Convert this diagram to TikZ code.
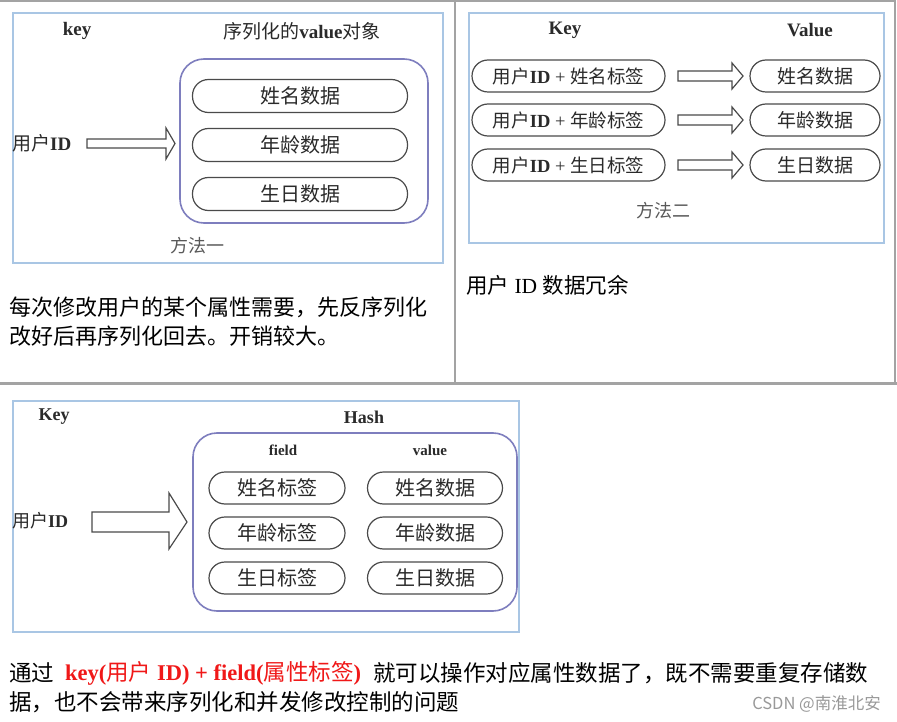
\documentclass[tikz,border=0pt]{standalone}
\usepackage{fontspec}
\setmainfont{Liberation Serif}
\newfontfamily\cjk{Noto Sans CJK SC}
\newcommand\zh[1]{{\cjk #1}}
\definecolor{framec}{HTML}{A9C6E4}
\definecolor{purp}{HTML}{7E7EBE}
\definecolor{pillc}{HTML}{4A4A4A}
\definecolor{txt}{HTML}{2A2A2A}
\definecolor{tabc}{HTML}{A3A3A3}
\definecolor{redt}{HTML}{F01818}
\begin{document}
\begin{tikzpicture}[x=1pt,y=-1pt,
  fs/.style={font=\fontsize{#1}{#1}\selectfont},
  lbl/.style={fs=#1, text=txt, inner sep=0pt},
  body/.style={fs=#1, text=black, inner sep=0pt, anchor=west},
  frame/.style={draw=framec, line width=1.8pt},
  purplebox/.style={draw=purp, line width=1.6pt, rounded corners=24pt, inner sep=0pt},
  pill/.style={draw=pillc, line width=1.2pt, rounded corners=16pt, minimum height=33pt, inner sep=0pt, text=txt, fs=20},
  blockarrow/.style={draw=pillc, line width=1.2pt, sharp corners, line join=miter, fill=white},
  tab/.style={draw=tabc, line width=2.5pt}
]
\useasboundingbox (0,0) rectangle (897,722);
\fill[white] (0,0) rectangle (897,722);

% table lines
\draw[tab, line width=1.5pt] (0,1) -- (896,1);
\draw[tab, line width=2pt] (895,0) -- (895,383);
\draw[tab, line width=2pt] (455,0) -- (455,383);
\draw[tab, line width=3pt] (0,383) -- (897,383);

% ---------- method 1 ----------
\node[frame, minimum width=430pt, minimum height=250pt, inner sep=0pt] (f1) at (228,138) {};
\node[lbl=19, font=\fontsize{19}{19}\selectfont\bfseries] (k1) at (77,31) {key};
\node[lbl=19] (v1) at (302,31) {\zh{序列化的}\textbf{value}\zh{对象}};
\node[purplebox, minimum width=248pt, minimum height=164pt] (b1) at (304,141) {};
\node[pill, minimum width=215pt] (p11) at (300,96) {\zh{姓名数据}};
\node[pill, minimum width=215pt] (p12) at (300,145) {\zh{年龄数据}};
\node[pill, minimum width=215pt] (p13) at (300,194) {\zh{生日数据}};
\node[lbl=19, anchor=west] (u1) at (12,143) {\zh{用户}\textbf{ID}};
\coordinate (a1) at (87,143.5);
\draw[blockarrow] (a1) ++(0,-4.5) -- ++(79,0) -- ++(0,-11) -- ++(9,15.5) -- ++(-9,15.5) -- ++(0,-11) -- ++(-79,0) -- cycle;
\node[lbl=18, text=black!65] (m1) at (197,246) {\zh{方法一}};

% ---------- method 2 ----------
\node[frame, minimum width=415pt, minimum height=230pt, inner sep=0pt] (f2) at (676.5,128) {};
\node[lbl=19, font=\fontsize{19}{19}\selectfont\bfseries] (k2) at (565,30) {Key};
\node[lbl=19, font=\fontsize{19}{19}\selectfont\bfseries] (v2) at (810,30) {Value};
\foreach \y/\n/\a/\b in {76/1/姓名/姓名, 120/2/年龄/年龄, 165/3/生日/生日}{
  \node[pill, minimum width=193pt, minimum height=32pt, fs=18.5] (kp\n) at (568.5,\y) {\zh{用户}\textbf{ID} + \zh{\a 标签}};
  \node[pill, minimum width=130pt, minimum height=32pt, fs=19] (vp\n) at (815,\y) {\zh{\b 数据}};
  \coordinate (a2\n) at (678,\y);
  \draw[blockarrow] (a2\n) ++(0,-5) -- ++(54,0) -- ++(0,-8) -- ++(11,13) -- ++(-11,13) -- ++(0,-8) -- ++(-54,0) -- cycle;
}
\node[lbl=18, text=black!65] (m2) at (663,211) {\zh{方法二}};
\node[body=21.5] (t2) at (466,285) {\zh{用户} ID \zh{数据冗余}};

% text under method 1
\node[body=22] (t1a) at (9,307) {\zh{每次修改用户的某个属性需要，先反序列化}};
\node[body=22] (t1b) at (9,336) {\zh{改好后再序列化回去。开销较大。}};

% ---------- method 3 ----------
\node[frame, minimum width=506pt, minimum height=231pt, inner sep=0pt] (f3) at (266,516.5) {};
\node[lbl=18, font=\fontsize{18}{18}\selectfont\bfseries] (k3) at (54,417) {Key};
\node[lbl=18, font=\fontsize{18}{18}\selectfont\bfseries] (h3) at (364,417) {Hash};
\node[purplebox, minimum width=324pt, minimum height=178pt] (b3) at (355,522) {};
\node[lbl=15, font=\fontsize{15}{15}\selectfont\bfseries] (fd) at (283,450) {field};
\node[lbl=15, font=\fontsize{15}{15}\selectfont\bfseries] (vl) at (430,450) {value};
\foreach \y/\n/\a in {488/1/姓名, 533/2/年龄, 578/3/生日}{
  \node[pill, minimum width=136pt, minimum height=32pt] (fp\n) at (277,\y) {\zh{\a 标签}};
  \node[pill, minimum width=135pt, minimum height=32pt] (dp\n) at (435,\y) {\zh{\a 数据}};
}
\node[lbl=18, anchor=west] (u3) at (12,521) {\zh{用户}\textbf{ID}};
\coordinate (a3) at (92,522);
\draw[blockarrow] (a3) ++(0,-10) -- ++(77,0) -- ++(0,-19) -- ++(18,29) -- ++(-18,27) -- ++(0,-17) -- ++(-77,0) -- cycle;

% bottom text
\node[body=22.5] (c1) at (9,673) {\zh{通过}};
\node[body=22.5, text=redt] (c2) at (65,673) {\textbf{key(}\zh{用户}\textbf{ ID) + field(}\zh{属性标签}\textbf{)}};
\node[body=22.5] (c3) at (373,673) {\zh{就可以操作对应属性数据了，既不需要重复存储数}};
\node[body=22.5] (c4) at (9,702) {\zh{据，也不会带来序列化和并发修改控制的问题}};
\node[inner sep=0pt, anchor=east, text=black!40, font=\cjk\fontsize{16.5}{16.5}\selectfont] (wm) at (881,704) {CSDN @南淮北安};
\end{tikzpicture}
\end{document}
